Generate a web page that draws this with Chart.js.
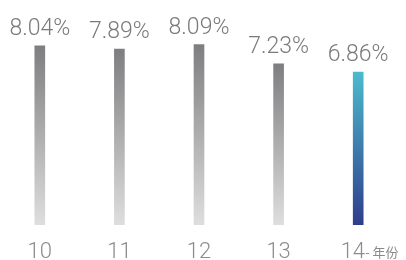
<!DOCTYPE html>
<html lang="zh">
<head>
    <meta charset="utf-8">
    <title>Rate by year</title>
    <style>
        html, body { margin: 0; padding: 0; background: #fff; }
        #wrap { width: 406px; height: 260px; }
    </style>
</head>
<body>
<div id="wrap">
    <canvas id="myChart" width="406" height="260"></canvas>
</div>
<script src="https://cdn.jsdelivr.net/npm/chart.js@4.4.0/dist/chart.umd.min.js"></script>
<script>
    var years = ['10', '11', '12', '13', '14'];
    var rates = [8.04, 7.89, 8.09, 7.23, 6.86];
    var unitLabel = '- 年份';

    // gradient for each bar, from its top down to the baseline
    function barFill(context) {
        var chart = context.chart;
        var area = chart.chartArea;
        if (!area) return '#999';
        var i = context.dataIndex;
        var y = chart.scales.y;
        var top = y.getPixelForValue(rates[i]);
        var bottom = y.getPixelForValue(0);
        var g = chart.ctx.createLinearGradient(0, top, 0, bottom);
        if (i === rates.length - 1) {
            g.addColorStop(0, '#4cbacd');
            g.addColorStop(1, '#2f3d8b');
        } else {
            g.addColorStop(0, '#7e7e80');
            g.addColorStop(1, '#dedede');
        }
        return g;
    }

    var valueLabels = {
        id: 'valueLabels',
        afterDatasetsDraw: function (chart) {
            var ctx = chart.ctx;
            var meta = chart.getDatasetMeta(0);
            ctx.save();
            ctx.font = '300 23px Roboto, "Liberation Sans", sans-serif';
            ctx.fillStyle = '#7a7a7a';
            ctx.textAlign = 'center';
            ctx.textBaseline = 'alphabetic';
            meta.data.forEach(function (bar, i) {
                ctx.fillText(rates[i].toFixed(2) + '%', bar.x, bar.y - 11);
            });

            // small unit text after the last year label
            var last = meta.data[meta.data.length - 1];
            ctx.font = '400 13px "Noto Sans CJK SC", sans-serif';
            ctx.fillStyle = '#8a8a8a';
            ctx.textAlign = 'left';
            ctx.fillText(unitLabel, last.x + 7, 257);
            ctx.restore();
        }
    };

    var chart = new Chart(document.getElementById('myChart'), {
        type: 'bar',
        data: {
            labels: years,
            datasets: [{
                data: rates,
                backgroundColor: barFill,
                barThickness: 10,
                borderWidth: 0
            }]
        },
        options: {
            responsive: false,
            animation: false,
            layout: { padding: { left: 0, right: 8, top: 2, bottom: -19 } },
            plugins: {
                legend: { display: false },
                tooltip: { enabled: false }
            },
            scales: {
                x: {
                    grid: { display: false, drawTicks: false },
                    border: { display: false },
                    ticks: {
                        color: '#8c8c8c',
                        padding: 16,
                        font: { family: 'Roboto', size: 22, weight: '300', lineHeight: 1 },
                        // last year label sits a little left to leave room for the unit
                        callback: function (v, i) {
                            return i === years.length - 1 ? years[i] + '  ' : years[i];
                        }
                    }
                },
                y: {
                    display: false,
                    min: 0,
                    max: 10
                }
            }
        },
        plugins: [valueLabels]
    });
</script>
</body>
</html>
